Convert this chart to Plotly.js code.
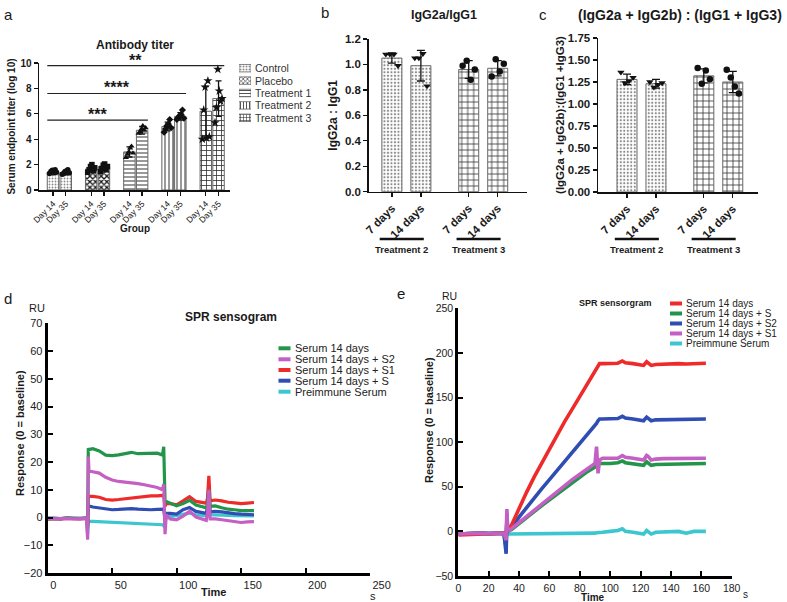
<!DOCTYPE html>
<html><head><meta charset="utf-8">
<script src="https://cdn.plot.ly/plotly-3.0.1.min.js"></script>
<style>html,body{margin:0;padding:0;background:#fff;}#chart{width:787px;height:602px;}</style>
</head><body><div id="chart"></div>
<script>
// ---------------- Panel a: Antibody titer ----------------
const groupsA = ['Control', 'Placebo', 'Treatment 1', 'Treatment 2', 'Treatment 3'];
const dayLabelsA = ['Day 14', 'Day 35'];
const meanDay14 = [1.4, 1.65, 3.0, 5.0, 6.2];
const meanDay35 = [1.35, 1.85, 4.7, 5.8, 7.2];
const sdDay14 = [0.15, 0.25, 0.4, 0.35, 1.95];
const sdDay35 = [0.15, 0.25, 0.3, 0.3, 1.4];
const ptsDay14 = [
  [1.3, 1.45, 1.55, 1.35, 1.6, 1.4],
  [1.4, 1.6, 1.85, 2.0, 1.5, 1.75],
  [2.55, 2.8, 3.0, 3.3, 3.45, 2.9],
  [4.55, 4.8, 5.05, 5.2, 5.55, 4.9],
  [4.0, 6.3, 8.1, 4.1, 8.6, 4.2]
];
const ptsDay35 = [
  [1.25, 1.3, 1.45, 1.5, 1.6, 1.35],
  [1.45, 1.7, 1.95, 2.05, 1.6, 1.85],
  [4.45, 4.6, 4.8, 5.05, 4.7, 4.9],
  [5.55, 5.7, 5.85, 5.95, 6.3, 5.65],
  [5.3, 6.5, 9.5, 7.8, 7.0, 7.2]
];
const sigLevels = [5.5, 7.6, 9.8];
const sigLabels = ['***', '****', '**'];
const sigEndGroup = [2, 3, 4];

// ---------------- Panels b and c: ratios ----------------
const treatmentsBC = ['Treatment 2', 'Treatment 3'];
const daysBC = ['7 days', '14 days'];
const ratioB = [1.05, 0.99, 0.96, 0.97];          // T2 7d, T2 14d, T3 7d, T3 14d
const sdB = [0.04, 0.12, 0.07, 0.06];
const ptsB = [[1.08, 1.08, 1.08, 0.99], [1.05, 1.05, 1.085, 0.83], [0.99, 1.03, 0.88, 0.96], [0.905, 1.04, 0.945, 1.005]];
const ratioC = [1.28, 1.23, 1.32, 1.25];
const sdC = [0.06, 0.05, 0.08, 0.12];
const ptsC = [[1.36, 1.24, 1.26, 1.30], [1.25, 1.19, 1.22, 1.24], [1.41, 1.23, 1.38, 1.28], [1.39, 1.30, 1.20, 1.12]];

// ---------------- Panel d: SPR sensogram ----------------
const timeD = [0,5,10,15,20,25,30, 31,31.5,32, 35,40,45,50,55,60,65,70,75,80,85, 89,90,91,92, 95,100,105,110,115,120, 123,124,125,126,128, 130,135,140,145,150,155,160];
const serum14D  = [-0.5,-0.3,-0.4,-0.2,-0.3,-0.3,-0.2, -4,25,24.5, 24.8,24,22.5,22.3,22.6,23,23.5,23,23,23.2,23.2, 22.5,25.5,6,5.8, 5.2,4.2,5,6.2,4.5,4, 3.5,5,10,4,4, 4.2,3.5,3,2.8,2.5,2.5,2.5];
const serumS2D  = [-0.3,-0.5,-0.4,-0.3,-0.5,-0.4,-0.3, -8,22,17, 16.5,16,14.5,13.5,13,12.8,12.6,12.2,11.8,11.2,10.8, 10,12,-6,1, -0.5,-0.8,0.5,2.2,0.2,-0.5, -1,2,10,-0.5,-0.5, -0.5,-0.8,-1.2,-1.5,-1.8,-1.6,-1.5];
const serumS1D  = [-0.6,-0.4,-0.5,-0.3,-0.4,-0.5,-0.3, -3,8,7.6, 7.6,7.3,6.5,6.3,6.5,6.8,7,7.2,7.5,7.8,7.8, 7.8,8,4,5, 5,4.6,6,7.5,5.8,5.5, 5.2,7,15,6,6.3, 6.3,6,5.5,5.3,5,5.2,5.4];
const serumSD   = [-0.2,-0.3,-0.4,-0.2,-0.3,-0.4,-0.2, -3,5,4.2, 3.8,3.4,3,2.8,2.9,3,3.2,3,2.8,2.8,2.9, 2.8,3,-1,1.5, 1.5,1.2,2.8,3.6,2.2,1.8, 1.5,4,12,2,2.2, 2.2,2,1.6,1.4,1.2,1.1,1.0];
const preimmuneD = [-0.4,-0.3,-0.5,-0.2,-0.3,-0.4,-0.3, -6,-1,-1.4, -1.4,-1.5,-1.6,-1.7,-1.8,-1.8,-1.9,-2,-2.2,-2.4,-2.5, -2.6,-3,-1,0, 0.3,0.8,1.2,1.6,1,0.8, 0.6,2,7,1,1, 1,0.9,0.8,0.7,0.6,0.6,0.6];
const namesD = ['Serum 14 days', 'Serum 14 days + S2', 'Serum 14 days + S1', 'Serum 14 days + S', 'Preimmune Serum'];

// ---------------- Panel e: SPR sensorgram ----------------
const timeE = [0,5,10,15,20,25,30, 31.5,32,32.5,33, 35,40,45,50,55,60,65,70,75,80,85,90, 91,92,93, 95,100,105,108,110,115,120,122,124,125,127, 130,135,140,145,150,155,160,163];
const serum14E  = [-4,-3.5,-3,-3,-2.5,-2.5,-2, -8,10,0,1, 7,26,44,61,77,93,108,123,137,151,165,179, 182,185,188, 188,188,188.5,191,189,188,187,186,190,189,186, 187,187.5,187.5,188,187.5,188,188.5,188.5];
const serumSE   = [-3,-2.5,-2.5,-2,-2.5,-2,-2, -18,15,0,1, 2,9,16,22.5,29,35.5,42,48.5,55,61,67,72, 74,75,76, 76,76,77,79,77,76,75,74,78,77,74, 75,75,75.5,75.5,75,75.5,76,76];
const serumS2E  = [-3,-2.5,-2.5,-2,-2.5,-2,-2, -25,20,0,1, 4,16,27,38,48,58,68,78,88,98,108,118, 121,124,126, 126,126,126.5,129,127,126,125,124,128,127,124, 125,125,125.5,125.5,125,125.5,126,126];
const serumS1E  = [-3,-2.5,-2.5,-2,-2.5,-2,-2, -10,25,0,1, 3,10,17,24,31,38,45,52,58,64,70,76, 95,65,80, 82,82,82,85,83,82,81,80,85,84,80, 81,81.5,81.5,82,81.5,82,82.5,82];
const preimmuneE = [-3,-2.5,-2.5,-2,-2.5,-2,-2, -12,8,-3,-3, -3,-3,-2.5,-2.5,-2.5,-3,-3,-2.5,-3,-2.5,-2.5,-2, -1.5,-1.5,-1, -1,0,1,3,0,-1,-2,-3,1,0,-3, -1,-1,-1,0,-2,0,0,0];
const namesE = ['Serum 14 days', 'Serum 14 days + S', 'Serum 14 days + S2', 'Serum 14 days + S1', 'Preimmune Serum'];

// ================= drawing =================
const W = 787, H = 602;
const px = v => v / W;
const py = v => 1 - v / H;
const F = 'Liberation Sans, Arial, Helvetica, sans-serif';
const INK = '#1a1a1a';

const patA = [
  {shape: '.', fgcolor: '#8a8a8a', size: 3, solidity: 0.3},
  {shape: 'x', fgcolor: '#1a1a1a', size: 4, solidity: 0.55},
  {shape: '-', fgcolor: '#555', size: 4, solidity: 0.3},
  {shape: '|', fgcolor: '#555', size: 4, solidity: 0.3},
  {shape: '+', fgcolor: '#333', size: 5, solidity: 0.3}
];
const symA = ['circle', 'square', 'triangle-up', 'diamond', 'star'];
const patBC = [
  {shape: '.', fgcolor: '#8a8a8a', size: 3.5, solidity: 0.3},
  {shape: '+', fgcolor: '#333', size: 6, solidity: 0.25}
];
const symBC = ['triangle-down', 'circle'];
const colD = ['#22954a', '#c45fc4', '#ee2a2a', '#2f4db3', '#3cc6cf'];
const colE = ['#ee2a2a', '#22954a', '#2f4db3', '#c45fc4', '#3cc6cf'];

const jitter = (i, n, spread) => n > 1 ? (i / (n - 1) - 0.5) * spread : 0;
const traces = [];

// ---- a: bars + points
const xA = (g, d) => g * 3 + d;
groupsA.forEach((g, gi) => {
  traces.push({
    type: 'bar', xaxis: 'x', yaxis: 'y', name: g,
    x: [xA(gi, 0), xA(gi, 1)], y: [meanDay14[gi], meanDay35[gi]], width: 0.9,
    marker: {color: '#fff', line: {color: '#666', width: 1}, pattern: patA[gi]},
    error_y: {type: 'data', array: [sdDay14[gi], sdDay35[gi]], color: '#111', thickness: 1.3, width: 3}
  });
});
groupsA.forEach((g, gi) => {
  [ptsDay14[gi], ptsDay35[gi]].forEach((pts, di) => {
    traces.push({
      type: 'scatter', mode: 'markers', xaxis: 'x', yaxis: 'y', name: g + ' ' + dayLabelsA[di],
      x: pts.map((v, i) => xA(gi, di) + jitter(i, pts.length, 0.55)), y: pts,
      marker: {symbol: symA[gi], size: gi === 4 ? 7 : 5.5, color: '#111'}, cliponaxis: false
    });
  });
});
// a legend swatches (hidden axis)
traces.push({
  type: 'bar', orientation: 'h', xaxis: 'x6', yaxis: 'y6', name: 'legend a',
  y: groupsA.map((g, i) => i), x: groupsA.map(() => 1), width: 0.6,
  marker: {color: '#fff', line: {color: '#666', width: 0.8},
    pattern: {shape: patA.map(p => p.shape), fgcolor: patA.map(p => p.fgcolor), size: 3, solidity: 0.35}}
});

// ---- b, c
const xBC = (t, d) => t * 2.65 + d;
function ratioPanel(means, sds, pts, xa, ya) {
  treatmentsBC.forEach((t, ti) => {
    const idx = [ti * 2, ti * 2 + 1];
    traces.push({
      type: 'bar', xaxis: xa, yaxis: ya, name: t,
      x: [xBC(ti, 0), xBC(ti, 1)], y: idx.map(k => means[k]), width: 0.69,
      marker: {color: '#fff', line: {color: '#666', width: 1}, pattern: patBC[ti]},
      error_y: {type: 'data', array: idx.map(k => sds[k]), color: '#111', thickness: 1.3, width: 4}
    });
    idx.forEach((k, di) => {
      traces.push({
        type: 'scatter', mode: 'markers', xaxis: xa, yaxis: ya, name: t + ' ' + daysBC[di],
        x: pts[k].map((v, i) => xBC(ti, di) + jitter(i, pts[k].length, 0.42)), y: pts[k],
        marker: {symbol: symBC[ti], size: 6.5, color: '#111'}, cliponaxis: false
      });
    });
  });
}
ratioPanel(ratioB, sdB, ptsB, 'x2', 'y2');
ratioPanel(ratioC, sdC, ptsC, 'x3', 'y3');

// ---- d
const valuesD = [serum14D, serumS2D, serumS1D, serumSD, preimmuneD];
[4, 3, 2, 0, 1].forEach(k => {
  traces.push({type: 'scatter', mode: 'lines', xaxis: 'x4', yaxis: 'y4', name: namesD[k],
    x: timeD, y: valuesD[k], line: {color: colD[k], width: 3.2}});
});
// ---- e
const valuesE = [serum14E, serumSE, serumS2E, serumS1E, preimmuneE];
[4, 1, 2, 0, 3].forEach(k => {
  traces.push({type: 'scatter', mode: 'lines', xaxis: 'x5', yaxis: 'y5', name: namesE[k],
    x: timeE, y: valuesE[k], line: {color: colE[k], width: 3.6}});
});

// ---- axes
const axBar = {showline: true, linecolor: '#111', linewidth: 1.5, ticks: 'outside', ticklen: 4, tickwidth: 1.3,
  tickcolor: '#111', showgrid: false, zeroline: false, fixedrange: true};
const axSpr = {showline: true, linecolor: '#000', linewidth: 3, ticks: 'inside', ticklen: 5, tickwidth: 2,
  tickcolor: '#000', showgrid: false, zeroline: false, fixedrange: true, tickfont: {size: 11, color: '#222'}};

const layout = {
  width: W, height: H, margin: {l: 0, r: 0, t: 0, b: 0},
  paper_bgcolor: '#fff', plot_bgcolor: 'rgba(0,0,0,0)', showlegend: false, barmode: 'overlay',
  font: {family: F, color: INK},
  xaxis: Object.assign({}, axBar, {domain: [px(39), px(230)], anchor: 'y', range: [-1.1, 13.9],
    tickmode: 'array', tickvals: groupsA.flatMap((g, gi) => [xA(gi, 0), xA(gi, 1)]),
    ticktext: groupsA.flatMap(() => dayLabelsA), tickangle: -45, tickfont: {size: 8.5, color: '#111'}}),
  yaxis: Object.assign({}, axBar, {domain: [py(190), py(63)], anchor: 'x', range: [0, 10], dtick: 2,
    tickfont: {size: 10, weight: 'bold'},
    title: {text: 'Serum endpoint titer (log 10)', font: {size: 10, weight: 'bold'}, standoff: 3}}),
  xaxis2: Object.assign({}, axBar, {domain: [px(368.7), px(527)], anchor: 'y2', range: [-0.8, 4.66],
    tickmode: 'array', tickvals: treatmentsBC.flatMap((t, ti) => [xBC(ti, 0), xBC(ti, 1)]),
    ticktext: treatmentsBC.flatMap(() => daysBC), tickangle: -45, tickfont: {size: 11.5, weight: 'bold'}}),
  yaxis2: Object.assign({}, axBar, {domain: [py(191.7), py(39)], anchor: 'x2', range: [0, 1.2], dtick: 0.2,
    tickformat: '.1f', tickfont: {size: 11.5, weight: 'bold'},
    title: {text: 'IgG2a : IgG1', font: {size: 12, weight: 'bold'}, standoff: 4}}),
  xaxis3: Object.assign({}, axBar, {domain: [px(598), px(758)], anchor: 'y3', range: [-1.0, 4.52],
    tickmode: 'array', tickvals: treatmentsBC.flatMap((t, ti) => [xBC(ti, 0), xBC(ti, 1)]),
    ticktext: treatmentsBC.flatMap(() => daysBC), tickangle: -45, tickfont: {size: 11.5, weight: 'bold'}}),
  yaxis3: Object.assign({}, axBar, {domain: [py(192), py(38)], anchor: 'x3', range: [0, 1.75], dtick: 0.25,
    tickformat: '.2f', tickfont: {size: 11.5, weight: 'bold'},
    title: {text: '(IgG2a + IgG2b):(IgG1 +IgG3)', font: {size: 11.5, weight: 'bold'}, standoff: 1}}),
  xaxis4: Object.assign({}, axSpr, {domain: [px(47.7), px(370)], anchor: 'y4', range: [0, 250], dtick: 50,
    ticklabelposition: 'outside right'}),
  yaxis4: Object.assign({}, axSpr, {domain: [py(573), py(323.3)], anchor: 'x4', range: [-20, 70], dtick: 10}),
  xaxis5: Object.assign({}, axSpr, {domain: [px(458.3), px(731.7)], anchor: 'y5', range: [0, 180], dtick: 20,
    tickfont: {size: 10.5, color: '#222'}}),
  yaxis5: Object.assign({}, axSpr, {domain: [py(576), py(308.3)], anchor: 'x5', range: [-50, 250], dtick: 50,
    tickfont: {size: 10.5, color: '#222'}}),
  xaxis6: {domain: [px(239), px(251)], anchor: 'y6', range: [0, 1], visible: false, fixedrange: true},
  yaxis6: {domain: [py(124), py(62)], anchor: 'x6', range: [4.5, -0.5], visible: false, fixedrange: true},
  annotations: [], shapes: []
};

const A = layout.annotations, S = layout.shapes;
function note(text, x, y, size, extra) {
  A.push(Object.assign({text, x: px(x), y: py(y), xref: 'paper', yref: 'paper', showarrow: false,
    xanchor: 'center', yanchor: 'middle', font: {family: F, size, color: INK}}, extra || {}));
}
const bold = size => ({font: {family: F, size, weight: 'bold', color: INK}});
// panel letters
note('a', 8, 14, 15); note('b', 325, 13, 15); note('c', 543, 15, 15); note('d', 8, 298, 15); note('e', 401, 293, 15);
// titles
note('Antibody titer', 135, 45, 12, bold(12));
note('IgG2a/IgG1', 444, 15, 12.5, bold(12.5));
note('(IgG2a + IgG2b) : (IgG1 + IgG3)', 680, 15, 14, bold(14));
note('SPR sensogram', 231, 317, 12, bold(12));
note('SPR sensorgram', 615, 303, 9, bold(9));
// axis titles placed by hand
note('Group', 135, 228, 10, bold(10));
note('Time', 213, 592, 11, bold(11));
note('Time', 593, 597.5, 10, bold(10));
note('Response (0 = baseline)', 20, 433, 11, Object.assign({textangle: -90}, bold(11)));
note('Response (0 = baseline)', 429, 420, 11, Object.assign({textangle: -90}, bold(11)));
note('RU', 37, 308, 11); note('RU', 450, 296, 10.5);
note('s', 373, 596, 11); note('s', 745, 594, 10);

// significance bars (panel a)
sigLevels.forEach((lv, i) => {
  const x0 = xA(0, 0) - 0.45, x1 = xA(sigEndGroup[i], 1) + 0.45;
  S.push({type: 'line', xref: 'x', yref: 'y', x0, x1, y0: lv, y1: lv, line: {color: '#222', width: 1.2}});
  A.push({text: sigLabels[i], xref: 'x', yref: 'y', x: (x0 + x1) / 2, y: lv, showarrow: false,
    xanchor: 'center', yanchor: 'bottom', yshift: -5, font: {family: F, size: 16, weight: 'bold', color: INK}});
});
// legend a texts
groupsA.forEach((g, i) => {
  A.push({text: g, xref: 'paper', yref: 'y6', x: px(253), y: i, showarrow: false, xanchor: 'left', yanchor: 'middle',
    font: {family: F, size: 10.5, color: '#333'}});
});
// treatment group underlines for b and c
['x2', 'x3'].forEach(xr => {
  treatmentsBC.forEach((t, ti) => {
    const x0 = xBC(ti, 0) - 0.42, x1 = xBC(ti, 1) + 0.1;
    S.push({type: 'line', xref: xr, yref: 'paper', x0, x1, y0: py(239), y1: py(239), line: {color: '#111', width: 2.5}});
    A.push({text: t, xref: xr, yref: 'paper', x: (x0 + x1) / 2, y: py(249), showarrow: false, xanchor: 'center',
      yanchor: 'middle', font: {family: F, size: 9.5, weight: 'bold', color: INK}});
  });
});
// SPR legends (drawn manually for compact spacing)
function sprLegend(names, cols, xs, ys, size) {
  names.forEach((n, i) => {
    S.push({type: 'line', xref: 'paper', yref: 'paper', x0: px(xs), x1: px(xs + 12), y0: py(ys[i]), y1: py(ys[i]),
      line: {color: cols[i], width: 4}});
    A.push({text: n, xref: 'paper', yref: 'paper', x: px(xs + 14), y: py(ys[i]), showarrow: false, xanchor: 'left',
      yanchor: 'middle', font: {family: F, size, color: '#222'}});
  });
}
sprLegend(namesD, colD, 278.5, [348.3, 359.3, 370, 380.7, 391.7], 11);
sprLegend(namesE, colE, 670, [303.5, 313.5, 323.5, 333.5, 343.5], 10);

Plotly.newPlot('chart', traces, layout, {staticPlot: true, displayModeBar: false});
</script>
</body></html>
